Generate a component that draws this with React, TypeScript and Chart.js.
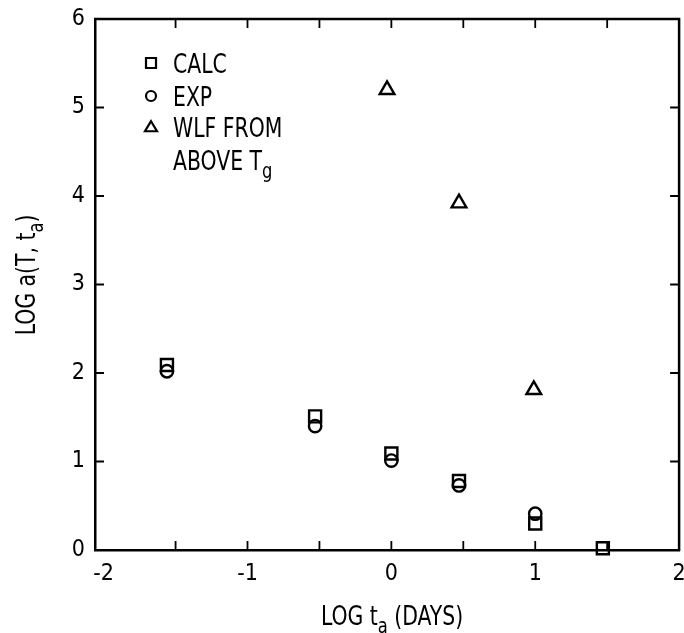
import React, { useEffect, useRef } from "react";
import { Chart, registerables } from "chart.js";

Chart.register(...registerables);

const CALC_X = [-1.56, -0.53, 0.0, 0.47, 1.0, 1.47];
const CALC_Y = [2.09, 1.51, 1.09, 0.78, 0.3, 0.02];
const EXP_X = [-1.56, -0.53, 0.0, 0.47, 1.0];
const EXP_Y = [2.02, 1.4, 1.01, 0.73, 0.41];
const WLF_X = [-0.03, 0.47, 0.99];
const WLF_Y = [5.2, 3.92, 1.81];

const X_LABEL_TICKS = [-2, -1, 0, 1, 2];
const Y_LABEL_TICKS = [0, 1, 2, 3, 4, 5, 6];
const X_MARK_TICKS = [-1.5, -1, -0.5, 0, 0.5, 1, 1.5];
const Y_MARK_TICKS = [1, 2, 3, 4, 5];

const LEGEND_LABELS = ["CALC", "EXP", "WLF FROM", "ABOVE T"];
const X_TITLE = [
  { t: "LOG t", sub: false },
  { t: "a", sub: true },
  { t: " (DAYS)", sub: false },
];
const Y_TITLE = [
  { t: "LOG a(T, t", sub: false },
  { t: "a", sub: true },
  { t: ")", sub: false },
];

const FONT_FAMILY = "'DejaVu Sans Condensed', 'Liberation Sans Narrow', 'Arial Narrow', sans-serif";
const TEXT_SIZE = 27;
const TEXT_SX = 0.84;

type Part = { t: string; sub: boolean };

function richWidth(ctx: CanvasRenderingContext2D, parts: Part[], size: number) {
  let w = 0;
  for (const p of parts) {
    ctx.font = `${p.sub ? size * 0.8 : size}px ${FONT_FAMILY}`;
    w += ctx.measureText(p.t).width;
  }
  return w;
}

function drawRich(ctx: CanvasRenderingContext2D, parts: Part[], x: number, y: number, size: number, sx: number) {
  ctx.save();
  ctx.translate(x, y);
  ctx.scale(sx, 1);
  ctx.textBaseline = "alphabetic";
  ctx.textAlign = "left";
  let cx = 0;
  for (const p of parts) {
    const s = p.sub ? size * 0.8 : size;
    ctx.font = `${s}px ${FONT_FAMILY}`;
    ctx.fillText(p.t, cx, p.sub ? size * 0.3 : 0);
    cx += ctx.measureText(p.t).width;
  }
  ctx.restore();
}

function drawSymbol(ctx: CanvasRenderingContext2D, kind: string, x: number, y: number, r: number) {
  ctx.beginPath();
  if (kind === "rect") {
    ctx.rect(x - r, y - r, 2 * r, 2 * r);
  } else if (kind === "circle") {
    ctx.arc(x, y, r, 0, Math.PI * 2);
  } else {
    ctx.moveTo(x, y - r * 1.15);
    ctx.lineTo(x + r * 1.2, y + r * 0.85);
    ctx.lineTo(x - r * 1.2, y + r * 0.85);
    ctx.closePath();
  }
  ctx.stroke();
}

const decorPlugin = {
  id: "decor",
  afterDraw(chart: any) {
    const ctx: CanvasRenderingContext2D = chart.ctx;
    const { left, right, top, bottom } = chart.chartArea;
    const xs = chart.scales.x;
    const ys = chart.scales.y;
    ctx.save();
    ctx.strokeStyle = "#000";
    ctx.fillStyle = "#000";
    ctx.lineWidth = 2.5;
    ctx.beginPath();
    ctx.moveTo(left - 1, top);
    ctx.lineTo(right, top);
    ctx.lineTo(right, bottom + 1);
    ctx.stroke();
    ctx.lineWidth = 1.8;
    const tl = 9;
    for (const v of X_MARK_TICKS) {
      const px = xs.getPixelForValue(v);
      ctx.beginPath();
      ctx.moveTo(px, bottom);
      ctx.lineTo(px, bottom - tl);
      ctx.moveTo(px, top);
      ctx.lineTo(px, top + tl);
      ctx.stroke();
    }
    for (const v of Y_MARK_TICKS) {
      const py = ys.getPixelForValue(v);
      ctx.beginPath();
      ctx.moveTo(left, py);
      ctx.lineTo(left + tl, py);
      ctx.moveTo(right, py);
      ctx.lineTo(right - tl, py);
      ctx.stroke();
    }
    // legend
    const lx = left + 56;
    const tx = left + 78;
    const rows = [top + 44, top + 77, top + 108, top + 141];
    const kinds = ["rect", "circle", "triangle"];
    ctx.lineWidth = 2.2;
    for (let i = 0; i < 3; i++) {
      drawSymbol(ctx, kinds[i], lx, rows[i], 5);
    }
    const capHalf = TEXT_SIZE * 0.365;
    for (let i = 0; i < 3; i++) {
      drawRich(ctx, [{ t: LEGEND_LABELS[i], sub: false }], tx, rows[i] + capHalf, TEXT_SIZE, TEXT_SX);
    }
    drawRich(
      ctx,
      [
        { t: LEGEND_LABELS[3], sub: false },
        { t: "g", sub: true },
      ],
      tx,
      rows[3] + capHalf,
      TEXT_SIZE,
      TEXT_SX
    );
    const xw = richWidth(ctx, X_TITLE, TEXT_SIZE) * TEXT_SX;
    drawRich(ctx, X_TITLE, 392 - xw / 2, 625, TEXT_SIZE, TEXT_SX);
    ctx.save();
    ctx.translate(35, 275);
    ctx.rotate(-Math.PI / 2);
    const yw = richWidth(ctx, Y_TITLE, TEXT_SIZE) * TEXT_SX;
    drawRich(ctx, Y_TITLE, -yw / 2, 0, TEXT_SIZE, TEXT_SX);
    ctx.restore();
    ctx.restore();
  },
};

export default function App() {
  const ref = useRef<HTMLCanvasElement | null>(null);
  useEffect(() => {
    if (!ref.current) return;
    const pt = (xs: number[], ys: number[]) => xs.map((x, i) => ({ x, y: ys[i] }));
    const common = {
      borderColor: "#000",
      backgroundColor: "rgba(255,255,255,0)",
      borderWidth: 2.4,
      showLine: false,
      clip: false as any,
    };
    const chart = new Chart(ref.current, {
      type: "scatter",
      data: {
        datasets: [
          { ...common, label: "CALC", data: pt(CALC_X, CALC_Y), pointStyle: "rect", pointRadius: 8.5 },
          { ...common, label: "EXP", data: pt(EXP_X, EXP_Y), pointStyle: "circle", pointRadius: 6.2 },
          { ...common, label: "WLF FROM ABOVE Tg", data: pt(WLF_X, WLF_Y), pointStyle: "triangle", pointRadius: 8.5 },
        ],
      },
      options: {
        animation: false,
        responsive: true,
        maintainAspectRatio: false,
        layout: { padding: { top: 19, right: 0, left: 0, bottom: 0 } },
        plugins: { legend: { display: false }, tooltip: { enabled: false } },
        scales: {
          x: {
            type: "linear",
            min: -2.06,
            max: 2.0,
            afterBuildTicks: (s: any) => {
              s.ticks = X_LABEL_TICKS.map((v) => ({ value: v }));
            },
            afterFit: (s: any) => {
              s.height = 83;
              s.paddingLeft = 0;
              s.paddingRight = 0;
            },
            grid: { display: false, drawTicks: false },
            border: { display: true, color: "#000", width: 2.5 },
            ticks: {
              color: "#000",
              padding: 10,
              maxRotation: 0,
              font: { size: 23, family: FONT_FAMILY },
              callback: (v: any) => (Number(v) < 0 ? "-" + Math.abs(Number(v)) : String(v)),
            },
          },
          y: {
            type: "linear",
            min: 0,
            max: 6,
            afterBuildTicks: (s: any) => {
              s.ticks = Y_LABEL_TICKS.map((v) => ({ value: v }));
            },
            afterFit: (s: any) => {
              s.width = 95;
              s.paddingTop = 0;
              s.paddingBottom = 0;
            },
            grid: { display: false, drawTicks: false },
            border: { display: true, color: "#000", width: 2.5 },
            ticks: {
              color: "#000",
              padding: 10,
              font: { size: 23, family: FONT_FAMILY },
            },
          },
        },
      },
      plugins: [decorPlugin],
    });
    return () => chart.destroy();
  }, []);
  return (
    <div style={{ position: "fixed", left: 0, top: 0, width: 690, height: 633, background: "#fff" }}>
      <canvas ref={ref} />
    </div>
  );
}
